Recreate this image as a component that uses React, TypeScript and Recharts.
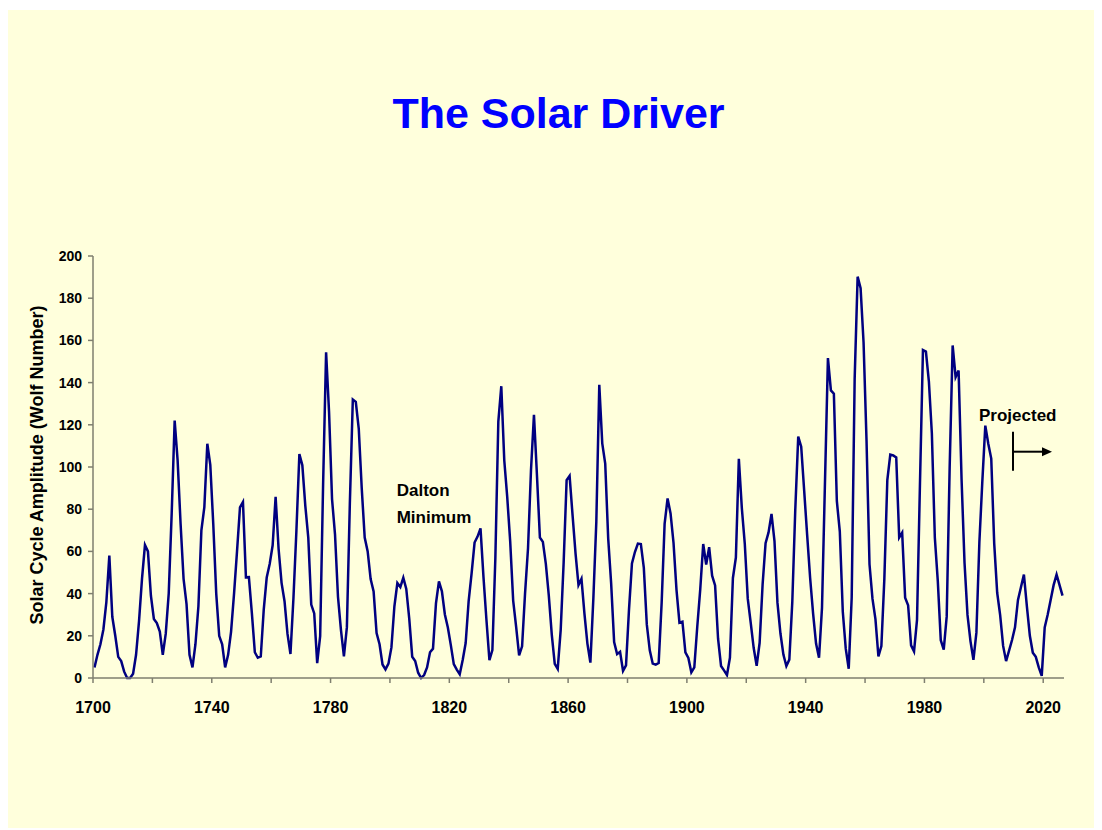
import React from "react";
import { LineChart, Line, XAxis, YAxis } from "recharts";

const FIRST_YEAR = 1700;

// yearly mean sunspot (Wolf) numbers
const WOLF_1700S = [
  5, 11, 16, 23, 36, 58, 29, 20, 10, 8,
  3, 0, 0, 2, 11, 27, 47, 63, 60, 39,
  28, 26, 22, 11, 21, 40, 78, 122, 103, 73,
  47, 35, 11, 5, 16, 34, 70, 81, 111, 101,
  73, 40, 20, 16, 5, 11, 22, 40, 60, 80.9,
  83.4, 47.7, 47.8, 30.7, 12.2, 9.6, 10.2, 32.4, 47.6, 54.0,
  62.9, 85.9, 61.2, 45.1, 36.4, 20.9, 11.4, 37.8, 69.8, 106.1,
  100.8, 81.6, 66.5, 34.8, 30.6, 7.0, 19.8, 92.5, 154.4, 125.9,
  84.8, 68.1, 38.5, 22.8, 10.2, 24.1, 82.9, 132.0, 130.9, 118.1,
  89.9, 66.6, 60.0, 46.9, 41.0, 21.3, 16.0, 6.4, 4.1, 6.8,
];
const WOLF_1800S = [
  14.5, 34.0, 45.0, 43.1, 47.5, 42.2, 28.1, 10.1, 8.1, 2.5,
  0.0, 1.4, 5.0, 12.2, 13.9, 35.4, 45.8, 41.1, 30.1, 23.9,
  15.6, 6.6, 4.0, 1.8, 8.5, 16.6, 36.3, 49.6, 64.2, 67.0,
  70.9, 47.8, 27.5, 8.5, 13.2, 56.9, 121.5, 138.3, 103.2, 85.7,
  64.6, 36.7, 24.2, 10.7, 15.0, 40.1, 61.5, 98.5, 124.7, 96.3,
  66.6, 64.5, 54.1, 39.0, 20.6, 6.7, 4.3, 22.7, 54.8, 93.8,
  95.8, 77.2, 59.1, 44.0, 47.0, 30.5, 16.3, 7.3, 37.6, 74.0,
  139.0, 111.2, 101.6, 66.2, 44.7, 17.0, 11.3, 12.4, 3.4, 6.0,
  32.3, 54.3, 59.7, 63.7, 63.5, 52.2, 25.4, 13.1, 6.8, 6.3,
  7.1, 35.6, 73.0, 85.1, 78.0, 64.0, 41.8, 26.2, 26.7, 12.1,
];
const WOLF_1900S = [
  9.5, 2.7, 5.0, 24.4, 42.0, 63.5, 53.8, 62.0, 48.5, 43.9,
  18.6, 5.7, 3.6, 1.4, 9.6, 47.4, 57.1, 103.9, 80.6, 63.6,
  37.6, 26.1, 14.2, 5.8, 16.7, 44.3, 63.9, 69.0, 77.8, 64.9,
  35.7, 21.2, 11.1, 5.7, 8.7, 36.1, 79.7, 114.4, 109.6, 88.8,
  67.8, 47.5, 30.6, 16.3, 9.6, 33.2, 92.6, 151.6, 136.3, 134.7,
  83.9, 69.4, 31.5, 13.9, 4.4, 38.0, 141.7, 190.2, 184.8, 159.0,
  112.3, 53.9, 37.6, 27.9, 10.2, 15.1, 47.0, 93.8, 105.9, 105.5,
  104.5, 66.6, 68.9, 38.0, 34.5, 15.5, 12.6, 27.5, 92.5, 155.4,
  154.7, 140.5, 115.9, 66.6, 45.9, 17.9, 13.4, 29.2, 100.2, 157.6,
  142.6, 145.7, 94.3, 54.6, 29.9, 17.5, 8.6, 21.5, 64.3, 93.3,
];
// 2000-2008 observed, then projection
const WOLF_2000S = [
  119.6, 111.0, 104.0, 63.7, 40.4, 29.8, 15.2, 8, 13,
  18, 24, 37, 43, 49, 34, 20, 12, 10, 5,
  1, 24, 30, 37, 44, 49, 44, 39,
];

const Y_TICKS = [0, 20, 40, 60, 80, 100, 120, 140, 160, 180, 200];
const X_TICK_YEARS = [1700, 1720, 1740, 1760, 1780, 1800, 1820, 1840, 1860, 1880, 1900, 1920, 1940, 1960, 1980, 2000, 2020];
const X_LABEL_EVERY = 40;

const wolf = [...WOLF_1700S, ...WOLF_1800S, ...WOLF_1900S, ...WOLF_2000S];
const data = wolf.map((v, i) => ({ year: FIRST_YEAR + i, wolf: v }));
const LAST_YEAR = FIRST_YEAR + wolf.length - 1;

const FONT = '"Liberation Sans", Arial, sans-serif';
const W = 1094;
const H = 820;

const XTick = (props: any) => {
  const { x, y, payload } = props;
  const yr = Math.round(payload.value + 0.5);
  if ((yr - FIRST_YEAR) % X_LABEL_EVERY !== 0) return <g />;
  return (
    <text x={x} y={y + 30} textAnchor="middle" fontFamily={FONT} fontWeight="bold" fontSize={16} fill="#000">
      {yr}
    </text>
  );
};

export default function App() {
  return (
    <div style={{ position: "relative", top: 2, width: W, height: H, background: "#FFFFDC", fontFamily: FONT }}>
      <LineChart width={W} height={H} data={data} margin={{ top: 246, right: 38, bottom: 112, left: 25 }}>
        <XAxis
          type="number"
          dataKey="year"
          domain={[FIRST_YEAR - 0.5, LAST_YEAR + 0.5]}
          ticks={X_TICK_YEARS.map((t) => t - 0.5)}
          interval={0}
          tick={<XTick />}
          tickSize={5}
          tickMargin={0}
          height={40}
          stroke="#7f7f6f"
          strokeWidth={1.5}
          allowDataOverflow
        />
        <YAxis
          type="number"
          domain={[0, 200]}
          ticks={Y_TICKS}
          interval={0}
          width={60}
          tickSize={5}
          tickMargin={6}
          stroke="#7f7f6f"
          strokeWidth={1.5}
          tick={{ fill: "#000", fontSize: 14, fontWeight: "bold", fontFamily: FONT }}
        />
        <Line
          type="linear"
          dataKey="wolf"
          stroke="#000080"
          strokeWidth={2.5}
          dot={false}
          isAnimationActive={false}
        />
      </LineChart>
      <svg width={W} height={H} style={{ position: "absolute", left: 0, top: 0, pointerEvents: "none" }}>
        <text x={550.5} y={117.7} textAnchor="middle" fontFamily={FONT} fontWeight="bold" fontSize={43} fill="#0000FF">
          The Solar Driver
        </text>
        <text
          x={0}
          y={0}
          transform="translate(29 455) rotate(-90)"
          textAnchor="middle"
          dominantBaseline="central"
          fontFamily={FONT}
          fontWeight="bold"
          fontSize={18}
          fill="#000"
        >
          Solar Cycle Amplitude (Wolf Number)
        </text>
        <text x={388.7} y={486} fontFamily={FONT} fontWeight="bold" fontSize={17} fill="#000">Dalton</text>
        <text x={388.7} y={513.3} fontFamily={FONT} fontWeight="bold" fontSize={17} fill="#000">Minimum</text>
        <text x={971} y={411} fontFamily={FONT} fontWeight="bold" fontSize={17} fill="#000">Projected</text>
        <line x1={1005} y1={421.7} x2={1005} y2={460.7} stroke="#000" strokeWidth={2} />
        <line x1={1005} y1={441.7} x2={1036} y2={441.7} stroke="#000" strokeWidth={2} />
        <polygon points="1044,441.7 1034,437.2 1034,446.2" fill="#000" />
      </svg>
    </div>
  );
}
